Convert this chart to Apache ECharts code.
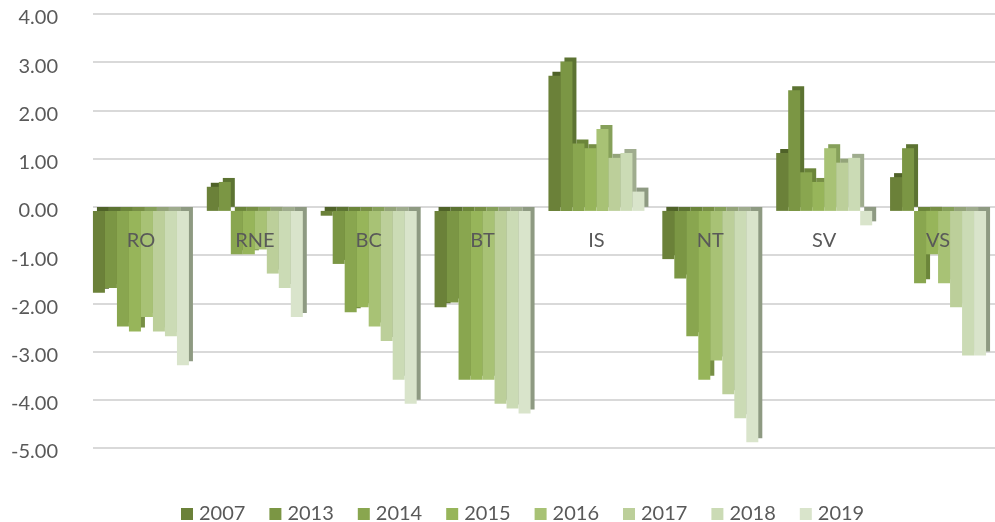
<!DOCTYPE html>
<html>
<head>
<meta charset="utf-8">
<script src="https://cdn.jsdelivr.net/npm/echarts@6/dist/echarts.min.js"></script>
<style>
html,body{margin:0;padding:0;background:#fff;}
#chart{width:995px;height:522px;}
</style>
</head>
<body>
<div id="chart"></div>
<script>
const categories = ['RO', 'RNE', 'BC', 'BT', 'IS', 'NT', 'SV', 'VS'];
const seriesNames = ['2007', '2013', '2014', '2015', '2016', '2017', '2018', '2019'];
const y2007 = [-1.7, 0.5, -0.1, -2.0, 2.8, -1.0, 1.2, 0.7];
const y2013 = [-1.6, 0.6, -1.1, -1.9, 3.1, -1.4, 2.5, 1.3];
const y2014 = [-2.4, -0.9, -2.1, -3.5, 1.4, -2.6, 0.8, -1.5];
const y2015 = [-2.5, -0.9, -2.0, -3.5, 1.3, -3.5, 0.6, -0.9];
const y2016 = [-2.2, -0.8, -2.4, -3.5, 1.7, -3.1, 1.3, -1.5];
const y2017 = [-2.5, -1.3, -2.7, -4.0, 1.1, -3.8, 1.0, -2.0];
const y2018 = [-2.6, -1.6, -3.5, -4.1, 1.2, -4.3, 1.1, -3.0];
const y2019 = [-3.2, -2.2, -4.0, -4.2, 0.4, -4.8, -0.3, -3.0];
const seriesValues = [y2007, y2013, y2014, y2015, y2016, y2017, y2018, y2019];

const colors = ['#6b8139', '#7b9644', '#89a64f', '#97b55a', '#a8c275', '#bccf9a', '#cbdbb5', '#d9e4cb'];
const depthColors = ['#4f6228', '#5c7332', '#6b853a', '#778f45', '#86a05a', '#94a47a', '#9fac8e', '#8e9a82'];

const FONT = 'Lato, "Open Sans", sans-serif';
const TXT = '#595959';

const Y_MIN = -5, Y_MAX = 4;
const GRID_TOP = 18, GRID_H = 434;
// distance from the grid bottom up to the zero line, so the category labels sit under zero
const zeroOffset = -GRID_H * (0 - Y_MIN) / (Y_MAX - Y_MIN);

const chart = echarts.init(document.getElementById('chart'), null, {renderer: 'canvas'});

const series = seriesValues.map((vals, i) => ({
  name: seriesNames[i],
  type: 'bar',
  xAxisIndex: 0,
  yAxisIndex: 0,
  data: vals,
  barWidth: 12,
  barGap: '0%',
  itemStyle: {
    color: colors[i],
    shadowColor: depthColors[i],
    shadowBlur: 0,
    shadowOffsetX: 4,
    shadowOffsetY: -4
  },
  emphasis: {disabled: true},
  animation: false
}));

chart.setOption({
  backgroundColor: '#ffffff',
  animation: false,
  color: colors,
  grid: [
    {left: 84, right: 0, top: GRID_TOP, height: GRID_H, containLabel: false},
    {left: 93, right: 0, top: GRID_TOP - 4, height: GRID_H, containLabel: false}
  ],
  legend: {
    data: seriesNames,
    left: 176,
    top: 499,
    icon: 'rect',
    itemWidth: 12,
    itemHeight: 12,
    itemGap: 24,
    textStyle: {color: TXT, fontSize: 20, fontFamily: FONT, padding: [0, 0, 0, 1]}
  },
  xAxis: [
    {
      type: 'category',
      gridIndex: 0,
      data: categories,
      position: 'bottom',
      offset: zeroOffset,
      z: 10,
      axisLine: {show: false, onZero: false},
      axisTick: {show: false},
      splitLine: {show: false},
      axisLabel: {color: TXT, fontSize: 20, fontFamily: FONT, margin: 20}
    },
    {
      type: 'category',
      gridIndex: 1,
      data: categories,
      show: false
    }
  ],
  yAxis: [
    {
      type: 'value',
      gridIndex: 0,
      min: Y_MIN,
      max: Y_MAX,
      interval: 1,
      axisLine: {show: false},
      axisTick: {show: false},
      splitLine: {show: false},
      axisLabel: {
        color: TXT, fontSize: 20, fontFamily: FONT, margin: 26,
        formatter: v => v.toFixed(2)
      }
    },
    {
      type: 'value',
      gridIndex: 1,
      min: Y_MIN,
      max: Y_MAX,
      interval: 1,
      z: 0,
      axisLine: {show: false},
      axisTick: {show: false},
      axisLabel: {show: false},
      splitLine: {show: true, lineStyle: {color: '#d9d9d9', width: 2}}
    }
  ],
  series: series
});
</script>
</body>
</html>
